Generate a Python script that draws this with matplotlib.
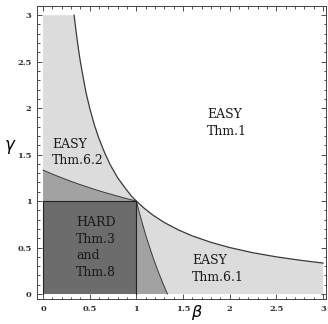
import matplotlib.pyplot as plt
from matplotlib.ticker import MultipleLocator

# === DATOS ===
# frontera EASY Thm.1 (curva superior)
curve_beta = [0.333, 0.34, 0.36, 0.38, 0.40, 0.43, 0.46, 0.50, 0.55, 0.60, 0.66, 0.72,
              0.80, 0.88, 0.95, 1.00, 1.08, 1.18, 1.30, 1.45, 1.60, 1.80, 2.00,
              2.25, 2.50, 2.75, 3.00]
curve_gamma = [3.00, 2.94, 2.78, 2.63, 2.50, 2.33, 2.17, 2.00, 1.82, 1.67, 1.52, 1.39,
               1.25, 1.14, 1.05, 1.00, 0.926, 0.847, 0.769, 0.690, 0.625, 0.556, 0.500,
               0.444, 0.400, 0.364, 0.333]

# frontera de la zona gris media (rama superior, β <= 1)
mid_beta = [0.0, 0.125, 0.25, 0.375, 0.5, 0.625, 0.75, 0.875, 1.0]
mid_gamma = [1.333, 1.280, 1.231, 1.185, 1.143, 1.103, 1.067, 1.032, 1.0]

# cuadrado HARD
hard_beta = [0.0, 1.0]
hard_gamma = [0.0, 1.0]

labels = ["EASY\nThm.1", "EASY\nThm.6.2", "HARD\nThm.3\nand\nThm.8", "EASY\nThm.6.1"]
label_beta = [1.76, 0.10, 0.355, 1.60]
label_gamma = [1.84, 1.52, 0.50, 0.27]

ticks = [0, 0.5, 1, 1.5, 2, 2.5, 3]
tick_labels = ["0", "0.5", "1", "1.5", "2", "2.5", "3"]

# === COLORES ===
light = "#dcdcdc"
medium = "#a2a2a2"
dark = "#6c6c6c"
edge = "#3a3a3a"

fig = plt.figure(figsize=(3.28, 3.24), dpi=100)
ax = fig.add_axes([0.113, 0.077, 0.881, 0.904])

# zona gris clara: debajo de la curva
lx = [0.0, 0.0] + curve_beta + [curve_beta[-1]]
ly = [0.0, curve_gamma[0]] + curve_gamma + [0.0]
ax.fill(lx, ly, color=light, lw=0)
ax.plot(curve_beta, curve_gamma, color=edge, lw=0.9)

# zona gris media (simétrica respecto a β = γ)
mx = [0.0] + mid_beta + mid_gamma[::-1][1:]
my = [0.0] + mid_gamma + mid_beta[::-1][1:]
ax.fill(mx, my, color=medium, lw=0)
ax.plot(mid_beta + mid_gamma[::-1][1:], mid_gamma + mid_beta[::-1][1:],
        color=edge, lw=0.7)

# cuadrado HARD
b0, b1 = hard_beta
g0, g1 = hard_gamma
ax.fill([b0, b1, b1, b0], [g0, g0, g1, g1], color=dark, lw=0)
ax.plot([b0, b0, b1, b1], [g0, g1, g1, g0], color="#222222", lw=0.8)

for txt, bx, gy in zip(labels, label_beta, label_gamma):
    ax.text(bx, gy, txt, ha="left", va="center", fontsize=9,
            family="DejaVu Serif", linespacing=1.35, color="#1a1a1a")

ax.set_xlim(-0.064, 3.032)
ax.set_ylim(-0.054, 3.097)

ax.set_xticks(ticks)
ax.set_xticklabels(tick_labels)
ax.set_yticks(ticks)
ax.set_yticklabels(tick_labels)
ax.xaxis.set_minor_locator(MultipleLocator(0.1))
ax.yaxis.set_minor_locator(MultipleLocator(0.1))
ax.tick_params(which="both", direction="in", top=True, right=True,
               labelsize=6, width=0.6, colors="#333333", pad=4)
ax.tick_params(which="major", length=3.5)
ax.tick_params(which="minor", length=1.8)
for lab in ax.get_xticklabels() + ax.get_yticklabels():
    lab.set_family("DejaVu Serif")
    lab.set_fontweight("bold")
for s in ax.spines.values():
    s.set_linewidth(0.7)
    s.set_color("#444444")

fig.text(10 / 328, 1 - 147 / 324, r"$\gamma$", fontsize=12, ha="center", va="center")
fig.text(197 / 328, 1 - 313 / 324, r"$\beta$", fontsize=11.5, ha="center", va="center")

fig.savefig("out.png", dpi=100)
